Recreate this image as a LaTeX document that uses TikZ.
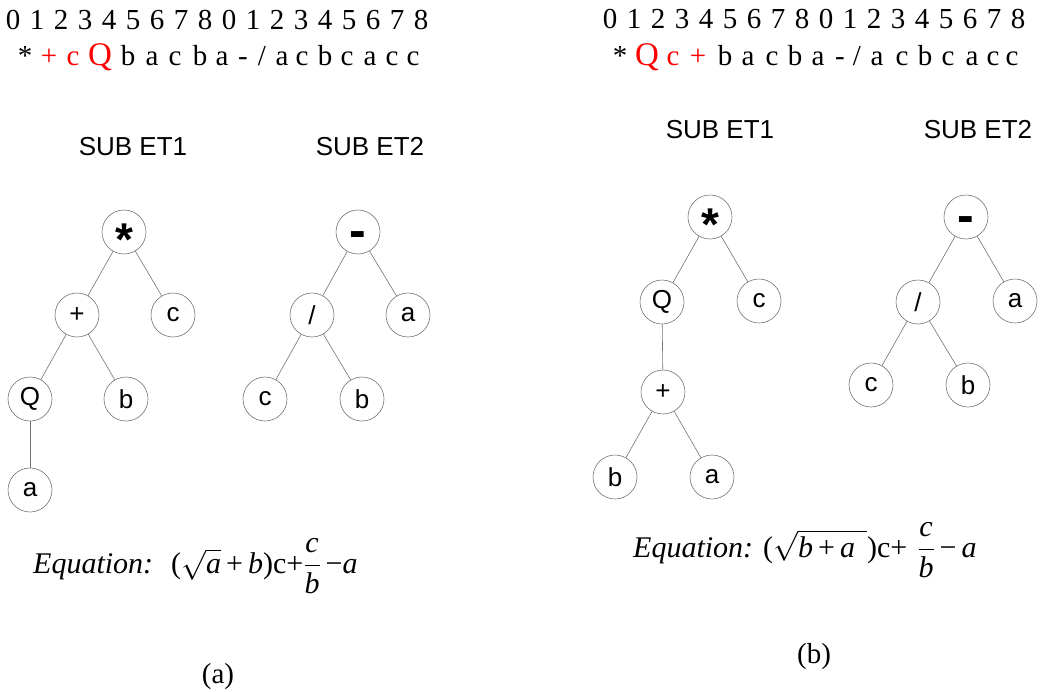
\RequirePackage{fix-cm}
\documentclass[tikz,border=0pt]{standalone}
\usepackage{fontspec}
\setmainfont{Liberation Serif}
\newfontfamily\arialf{Liberation Sans}
\newcommand\slsh{/}
\begin{document}
\begin{tikzpicture}[x=1pt,y=-1pt,
  tn/.style={circle,draw=black!55,line width=0.6pt,minimum size=44pt,inner sep=0pt,font=\arialf\fontsize{26}{26}\selectfont},
  tl/.style={draw=black!55,line width=0.6pt},
  sub/.style={font=\arialf\fontsize{26}{26}\selectfont},
  seqch/.style={anchor=base,inner sep=0pt,font=\fontsize{29}{29}\selectfont},
  bigq/.style={font=\fontsize{33}{33}\selectfont},
  eqn/.style={anchor=base west,inner sep=0pt,font=\fontsize{30}{30}\selectfont},
  captext/.style={anchor=base,inner sep=0pt,font=\fontsize{29}{29}\selectfont},
  star/.style={font=\arialf\bfseries\fontsize{46}{46}\selectfont},
  minus/.style={font=\arialf\bfseries\fontsize{50}{50}\selectfont}]
\useasboundingbox (0,0) rectangle (1040,691);

% ---- top index rows ----
\foreach \i in {0,...,17}{
  \pgfmathtruncatemacro\d{mod(\i,9)}
  \node[seqch] (ldig\i) at (13+24*\i,29) {\d};
  \node[seqch] (rdig\i) at (610+24*\i,28) {\d};
}
\foreach \ch/\x/\c [count=\k] in {*/25/black,+/49/red,c/73/red,b/128/black,a/152/black,c/175/black,b/200/black,a/222/black,-/243/black,\slsh/262/black,a/282/black,c/302/black,b/325/black,c/347/black,a/370/black,c/392/black,c/413/black}{
  \node[seqch,text=\c] (lch\k) at (\x,65) {\ch};
}
\node[seqch,bigq,text=red] (lchq) at (100,65) {Q};
\foreach \ch/\x/\c [count=\k] in {*/620/black,c/673/red,+/698/red,b/725/black,a/748/black,c/772/black,b/795/black,a/818/black,-/840/black,\slsh/857/black,a/877/black,c/902/black,b/925/black,c/948/black,a/972/black,c/993/black,c/1012/black}{
  \node[seqch,text=\c] (rch\k) at (\x,65) {\ch};
}
\node[seqch,bigq,text=red] (rchq) at (647,65) {Q};

% ---- sub-tree titles ----
\node[sub] (lt1) at (133,147) {SUB ET1};
\node[sub] (lt2) at (370,147) {SUB ET2};
\node[sub] (rt1) at (720,130) {SUB ET1};
\node[sub] (rt2) at (978,130) {SUB ET2};

% ---- left panel, ET1 ----
\node[tn,star] (a1m) at (124,232) {\raisebox{-0.5em}[0pt][0pt]{*}};
\node[tn] (a1p) at (77,315) {+};
\node[tn] (a1c) at (173,315) {c};
\node[tn] (a1q) at (30,399) {Q};
\node[tn] (a1b) at (126,399) {b};
\node[tn] (a1a) at (30,490) {a};
\draw[tl] (a1m) -- (a1p); \draw[tl] (a1m) -- (a1c);
\draw[tl] (a1p) -- (a1q); \draw[tl] (a1p) -- (a1b);
\draw[tl] (a1q) -- (a1a);

% ---- left panel, ET2 ----
\node[tn,minus] (a2m) at (358,232) {\raisebox{-0.3em}[0pt][0pt]{-}};
\node[tn] (a2d) at (312,315) {/};
\node[tn] (a2a) at (408,315) {a};
\node[tn] (a2c) at (265,399) {c};
\node[tn] (a2b) at (362,399) {b};
\draw[tl] (a2m) -- (a2d); \draw[tl] (a2m) -- (a2a);
\draw[tl] (a2d) -- (a2c); \draw[tl] (a2d) -- (a2b);

% ---- right panel, ET1 ----
\node[tn,star] (b1m) at (710,217) {\raisebox{-0.5em}[0pt][0pt]{*}};
\node[tn] (b1q) at (662,302) {Q};
\node[tn] (b1c) at (759,301) {c};
\node[tn] (b1p) at (663,392) {+};
\node[tn] (b1b) at (615,477) {b};
\node[tn] (b1a) at (712,477) {a};
\draw[tl] (b1m) -- (b1q); \draw[tl] (b1m) -- (b1c);
\draw[tl] (b1q) -- (b1p);
\draw[tl] (b1p) -- (b1b); \draw[tl] (b1p) -- (b1a);

% ---- right panel, ET2 ----
\node[tn,minus] (b2m) at (966,217) {\raisebox{-0.3em}[0pt][0pt]{-}};
\node[tn] (b2d) at (918,302) {/};
\node[tn] (b2a) at (1015,301) {a};
\node[tn] (b2c) at (871,385) {c};
\node[tn] (b2b) at (968,385) {b};
\draw[tl] (b2m) -- (b2d); \draw[tl] (b2m) -- (b2a);
\draw[tl] (b2d) -- (b2c); \draw[tl] (b2d) -- (b2b);

% ---- equations ----
\node[eqn] (eqa) at (33,573) {\textit{Equation:}\hspace{18pt}($\sqrt{\textit{a}}$\,+\,\textit{b})c+$\displaystyle\frac{\textit{c}}{\textit{b}}$\,−\textit{a}};
\node[eqn] (eqb) at (633,557) {\textit{Equation:}\hspace{10pt}($\sqrt{\textit{b}\,\textrm{+}\,\textit{a}\hspace{12pt}}$)c+\hspace{10pt}$\displaystyle\frac{\textit{c}}{\textit{b}}$\,−\,\textit{a}};

% ---- captions ----
\node[captext] (capa) at (218,683) {(a)};
\node[captext] (capb) at (814,663) {(b)};
\end{tikzpicture}
\end{document}
